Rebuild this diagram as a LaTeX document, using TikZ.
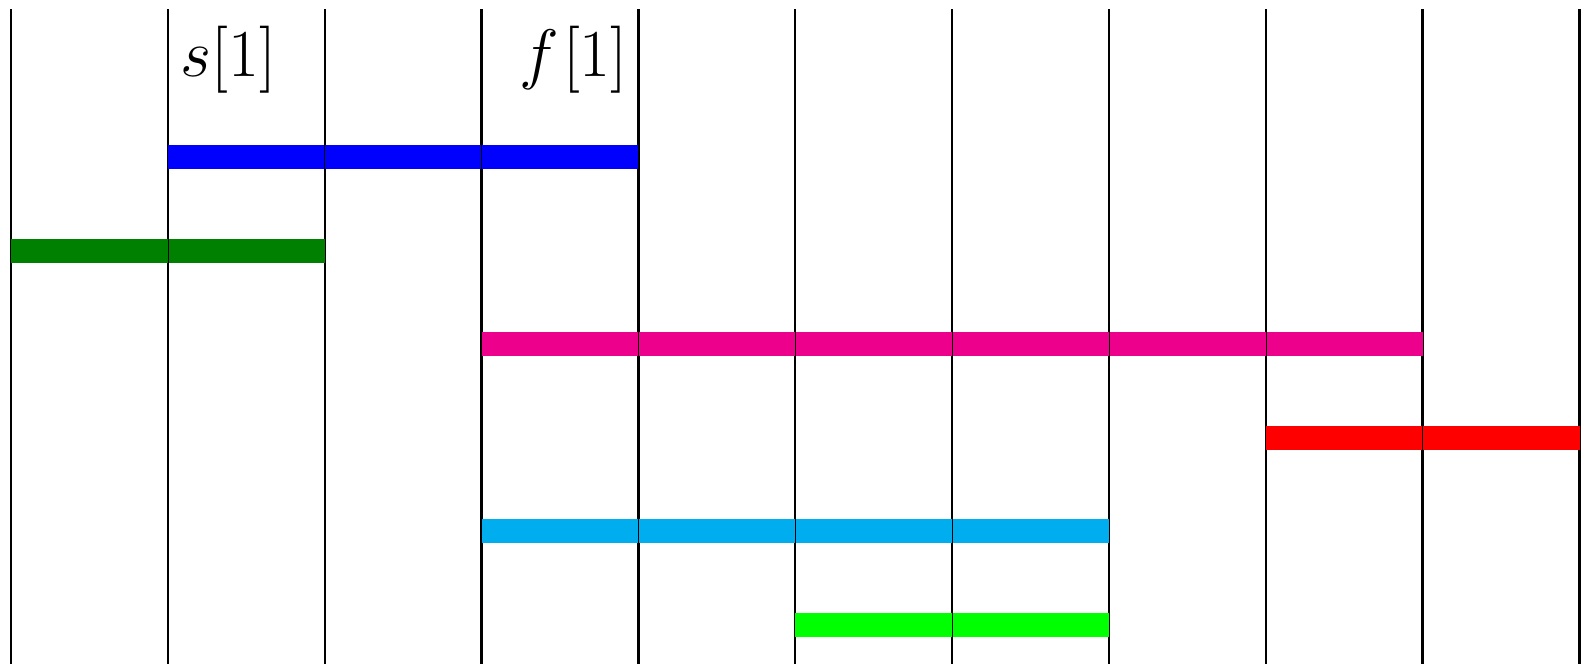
\documentclass[tikz,border=0pt]{standalone}
\definecolor{barblue}{RGB}{0,0,255}
\definecolor{bargreen}{RGB}{0,128,0}
\definecolor{barmagenta}{RGB}{236,0,140}
\definecolor{barred}{RGB}{255,0,0}
\definecolor{barcyan}{RGB}{0,174,239}
\definecolor{barlime}{RGB}{0,255,0}
\tikzset{
  gridline/.style={line width=2.4pt, black},
  seam/.style={line width=0.6pt, black},
  lbl/.style={inner sep=0pt, font=\Huge, scale=2.7}
}
\begin{document}
\begin{tikzpicture}[x=1pt,y=-1pt]
\useasboundingbox (0,0) rectangle (1581,664);
% vertical lines
\foreach \i in {0,...,10}{
  \draw[gridline] ({11+156.85*\i},9) -- ({11+156.85*\i},664);
}
% bars: color, row, start, end
\foreach \c/\r/\a/\b in {barblue/0/1/4, bargreen/1/0/2, barmagenta/2/3/9, barred/3/8/10, barcyan/4/3/7, barlime/5/5/7}{
  \pgfmathsetmacro{\yc}{157+93.6*\r}
  \pgfmathtruncatemacro{\bb}{\b-1}
  \foreach \k in {\a,...,\bb}{
    \fill[\c] ({11+156.85*\k},\yc-12) rectangle ({11+156.85*(\k+1)},\yc+12);
  }
  \pgfmathtruncatemacro{\aa}{\a+1}
  \ifnum\aa<\b
  \foreach \k in {\aa,...,\bb}{
    \draw[seam] ({11+156.85*\k},\yc-12) -- ({11+156.85*\k},\yc+12);
  }
  \fi
}
\node[lbl, anchor=base west] (s1) at (180,76) {$s[1]$};
\node[lbl, anchor=base east] (f1) at (628,76) {$f\mkern1mu[1]$};
\end{tikzpicture}
\end{document}
